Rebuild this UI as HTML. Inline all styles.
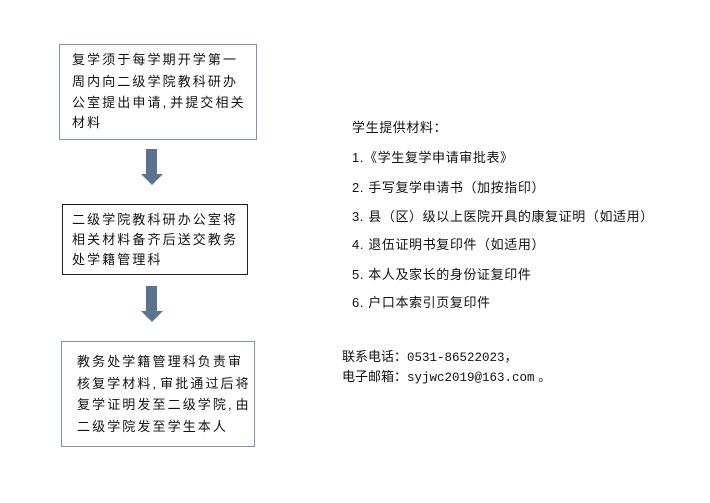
<!DOCTYPE html>
<html><head><meta charset="utf-8"><style>
body{margin:0;width:710px;height:503px;background:#fff;position:relative;overflow:hidden;font-family:"Liberation Sans","Noto Sans CJK SC",sans-serif;color:#111;}
.box{position:absolute;box-sizing:border-box;background:#fff;}
.l{position:absolute;font-size:13px;letter-spacing:2.1px;white-space:nowrap;line-height:16px;}
.c{letter-spacing:4px;}
.r{position:absolute;font-size:13px;letter-spacing:0.6px;white-space:nowrap;line-height:16px;}
.shaft{position:absolute;background:#5c7390;width:11px;}
.head{position:absolute;width:0;height:0;border-left:11px solid transparent;border-right:11px solid transparent;border-top:11px solid #5c7390;}
</style></head><body>
<div class="box" style="left:59px;top:44px;width:198px;height:96px;border:1.5px solid #8593a8;"></div>
<div class="l" style="left:72px;top:52px;">复学须于每学期开学第一</div>
<div class="l" style="left:72px;top:74px;">周内向二级学院教科研办</div>
<div class="l" style="left:72px;top:95px;">公室提出申请<span class="c">,</span>并提交相关</div>
<div class="l" style="left:72px;top:115px;">材料</div>

<div class="shaft" style="left:146px;top:149px;height:26px;"></div>
<div class="head" style="left:141px;top:174px;"></div>

<div class="box" style="left:62px;top:204px;width:186px;height:71px;border:1.5px solid #222;"></div>
<div class="l" style="left:72px;top:212px;">二级学院教科研办公室将</div>
<div class="l" style="left:72px;top:232px;">相关材料备齐后送交教务</div>
<div class="l" style="left:72px;top:252px;">处学籍管理科</div>

<div class="shaft" style="left:146px;top:286px;height:26px;"></div>
<div class="head" style="left:141px;top:311px;"></div>

<div class="box" style="left:61px;top:341px;width:194px;height:106px;border:1.5px solid #8593a8;"></div>
<div class="l" style="left:77px;top:354px;">教务处学籍管理科负责审</div>
<div class="l" style="left:77px;top:376px;">核复学材料<span class="c">,</span>审批通过后将</div>
<div class="l" style="left:77px;top:397px;">复学证明发至二级学院<span class="c">,</span>由</div>
<div class="l" style="left:77px;top:419px;">二级学院发至学生本人</div>

<div class="r" style="left:352px;top:120px;">学生提供材料：</div>
<div class="r" style="left:352px;top:150px;">1.《学生复学申请审批表》</div>
<div class="r" style="left:352px;top:180px;">2. 手写复学申请书（加按指印）</div>
<div class="r" style="left:352px;top:209px;">3. 县（区）级以上医院开具的康复证明（如适用）</div>
<div class="r" style="left:352px;top:237px;">4. 退伍证明书复印件（如适用）</div>
<div class="r" style="left:352px;top:267px;">5. 本人及家长的身份证复印件</div>
<div class="r" style="left:352px;top:295px;">6. 户口本索引页复印件</div>
<div class="r" style="left:342px;top:349px;letter-spacing:0;">联系电话：<span style="font-family:'Liberation Mono',monospace;font-size:12.5px;">0531-86522023</span>，</div>
<div class="r" style="left:342px;top:369px;letter-spacing:0;">电子邮箱：<span style="font-family:'Liberation Mono',monospace;font-size:12.5px;">syjwc2019@163.com</span> 。</div>
</body></html>
